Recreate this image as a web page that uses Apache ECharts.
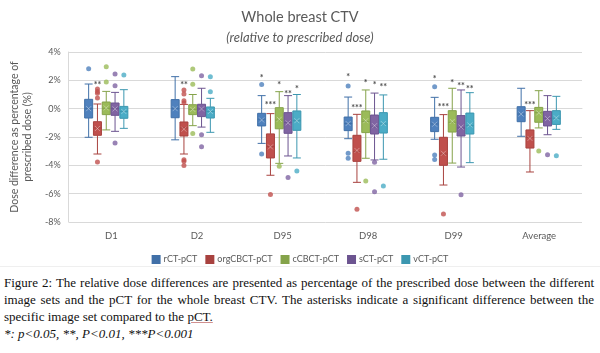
<!DOCTYPE html>
<html>
<head>
<meta charset="utf-8">
<script src="https://cdn.jsdelivr.net/npm/echarts@6/dist/echarts.min.js"></script>
<style>
  html, body { margin: 0; padding: 0; background: #fff; }
  #wrap { position: relative; width: 600px; height: 353px; overflow: hidden; }
  #chart { position: absolute; left: 0; top: 0; width: 600px; height: 266px; }
  #sep { position: absolute; left: 0; top: 266px; width: 600px; height: 1px; background: #efefef; }
  #caption {
    position: absolute; left: 4px; top: 274px; width: 590px;
    font-family: "Liberation Serif", "Times New Roman", serif;
    font-size: 13px; line-height: 17px; color: #111; text-align: justify;
  }
  #caption .u { text-decoration: underline; text-decoration-color: #d09090; }
</style>
</head>
<body>
<div id="wrap">
  <div id="chart"></div>
  <div id="sep"></div>
  <div id="caption">
    Figure 2: The relative dose differences are presented as percentage of the prescribed dose between the different
    image sets and the pCT for the whole breast CTV. The asterisks indicate a significant difference between the
    specific image set compared to the <span class="u">pCT.</span><br>
    <i>*: p&lt;0.05, **, P&lt;0.01, ***P&lt;0.001</i>
  </div>
</div>
<script>
// categories and tick labels
const categories = ['D1', 'D2', 'D95', 'D98', 'D99', 'Average'];
const yTicks = [-8, -6, -4, -2, 0, 2, 4];
const names = ['rCT-pCT', 'orgCBCT-pCT', 'cCBCT-pCT', 'sCT-pCT', 'vCT-pCT'];

// box values: [min, Q1, median, Q3, max] per category (dose diff in %)
const rctBox = [[-2.02, -0.66, 0.0, 0.66, 1.74], [-2.2, -0.64, 0.0, 0.64, 2.26], [-2.45, -1.22, -0.75, -0.33, 0.92],
  [-2.12, -1.55, -1.05, -0.59, 0.82], [-2.16, -1.62, -1.08, -0.61, 0.8], [-1.95, -0.92, -0.38, 0.14, 1.44]];
const orgBox = [[-3.2, -1.88, -1.36, -0.92, 0.33], [-3.2, -1.93, -1.36, -0.94, 0.3], [-4.7, -3.48, -2.68, -1.78, -0.35],
  [-5.2, -3.72, -3.04, -1.88, -0.4], [-5.39, -4.0, -3.2, -2.02, -0.42], [-4.47, -2.78, -2.02, -1.5, -0.14]];
const ccbBox = [[-1.5, -0.42, 0.02, 0.47, 1.22], [-1.2, -0.42, -0.05, 0.28, 1.0], [-3.86, -1.42, -0.8, 0.07, 1.2],
  [-3.5, -1.69, -0.9, -0.16, 1.32], [-3.84, -1.65, -0.96, -0.14, 1.44], [-1.36, -0.96, -0.28, 0.09, 1.27]];
const sctBox = [[-1.6, -0.47, 0.0, 0.4, 1.15], [-1.3, -0.56, -0.02, 0.31, 1.44], [-3.34, -1.74, -0.98, -0.28, 0.92],
  [-3.62, -1.79, -1.29, -0.45, 1.1], [-4.12, -1.93, -1.36, -0.49, 1.32], [-1.84, -1.22, -0.68, -0.19, 0.92]];
const vctBox = [[-1.39, -0.68, -0.19, 0.16, 1.34], [-1.67, -0.66, -0.2, 0.12, 0.73], [-3.48, -1.53, -0.85, -0.16, 1.0],
  [-3.57, -1.72, -1.08, -0.28, 0.97], [-3.81, -1.79, -1.2, -0.31, 1.13], [-1.46, -1.11, -0.68, -0.14, 0.87]];

// means (the x marks)
const rctMean = [0.0, 0.0, -0.8, -1.05, -1.1, -0.38];
const orgMean = [-1.4, -1.45, -2.7, -2.95, -3.15, -2.1];
const ccbMean = [0.05, -0.05, -0.75, -0.85, -0.9, -0.3];
const sctMean = [-0.02, -0.02, -1.0, -1.2, -1.3, -0.7];
const vctMean = [-0.2, -0.2, -0.85, -1.05, -1.15, -0.65];

// outliers: [category, value]
const rctOut = [['D1', 2.82], ['D95', 1.7], ['D95', -3.2], ['D98', 1.6], ['D98', -3.15], ['D98', -3.5],
  ['D99', 1.55], ['D99', -3.27], ['D99', -3.58]];
const orgOut = [['D1', 1.39], ['D1', 1.22], ['D1', 1.08], ['D1', 0.75], ['D1', -3.76],
  ['D2', 1.32], ['D2', 1.04], ['D2', 0.56], ['D2', 0.42], ['D2', -3.6], ['D2', -3.72], ['D2', -4.02],
  ['D95', -6.05], ['D98', -7.1], ['D99', -7.44]];
const ccbOut = [['D1', 2.96], ['D1', 1.88], ['D2', 2.8], ['D2', 1.72], ['D2', -1.76], ['D95', -4.07],
  ['D98', -5.1], ['Average', -2.99]];
const sctOut = [['D1', 2.45], ['D1', 1.62], ['D1', -2.42], ['D2', 2.33], ['D2', -1.84], ['D2', -2.68],
  ['D95', -4.85], ['D98', -3.78], ['D98', -5.86], ['D99', -6.07], ['Average', -3.25]];
const vctOut = [['D1', 2.38], ['D2', 2.26], ['D2', 1.2], ['D95', -4.4], ['D98', -5.46], ['Average', -3.32]];

// significance marks: [category, value, text]
const rctStars = [['D95', 2.3, '*'], ['D98', 2.38, '*'], ['D99', 2.24, '*']];
const orgStars = [['D1', 1.81, '**'], ['D2', 1.81, '**'], ['D95', 0.38, '***'], ['D98', 0.19, '***'],
  ['D99', 0.24, '***'], ['Average', 0.42, '***']];
const ccbStars = [['D95', 1.79, '*'], ['D98', 1.95, '*'], ['D99', 1.95, '*']];
const sctStars = [['D95', 1.18, '**'], ['D98', 1.79, '*'], ['D99', 1.74, '**']];
const vctStars = [['D95', 1.53, '*'], ['D98', 1.65, '**'], ['D99', 1.5, '**']];

const boxes = [rctBox, orgBox, ccbBox, sctBox, vctBox];
const means = [rctMean, orgMean, ccbMean, sctMean, vctMean];
const outs = [rctOut, orgOut, ccbOut, sctOut, vctOut];
const stars = [rctStars, orgStars, ccbStars, sctStars, vctStars];

const fills = ['#4F81BD', '#C0504D', '#9BBB59', '#8064A2', '#4BACC6'];
const darks = ['#4170A8', '#A8423F', '#85A34A', '#6C5490', '#3C97B0'];
const offsets = [-17.6, -8.8, 0, 8.8, 17.6];
const txt = '#595959';
const font = 'Lato, "Open Sans", sans-serif';

const chart = echarts.init(document.getElementById('chart'));

const grids = [{ left: 63, right: 18, top: 52, bottom: 44 }];
const xAxes = [{
  type: 'category', gridIndex: 0, data: categories,
  axisTick: { show: false },
  axisLine: { lineStyle: { color: '#d9d9d9' } },
  axisLabel: { color: txt, fontSize: 9.5, fontFamily: font, margin: 9 }
}];
const yAxes = [{
  type: 'value', gridIndex: 0, min: yTicks[0], max: yTicks[yTicks.length - 1], interval: 2,
  name: 'Dose difference as percentage of\nprescribed dose (%)',
  nameLocation: 'middle', nameGap: 19,
  nameTextStyle: { color: txt, fontSize: 10.5, fontFamily: font, lineHeight: 13 },
  axisLine: { show: true, lineStyle: { color: '#d9d9d9' } },
  axisTick: { show: false },
  splitLine: { lineStyle: { color: '#d9d9d9' } },
  axisLabel: { color: txt, fontSize: 9, fontFamily: font, margin: 8, formatter: v => v + '%' }
}];
const series = [];

names.forEach((name, i) => {
  const g = i + 1;
  grids.push({ left: 63 + offsets[i], right: 18 - offsets[i], top: 52, bottom: 44 });
  xAxes.push({ type: 'category', gridIndex: g, data: categories, show: false });
  yAxes.push({ type: 'value', gridIndex: g, min: -8, max: 4, interval: 2, show: false });
  series.push({
    name: name, type: 'boxplot', xAxisIndex: g, yAxisIndex: g,
    boxWidth: [8, 8],
    itemStyle: { color: fills[i], borderColor: darks[i], borderWidth: 1 },
    emphasis: { disabled: true },
    data: boxes[i]
  });
  series.push({
    name: name, type: 'scatter', xAxisIndex: g, yAxisIndex: g,
    symbolSize: 5, itemStyle: { color: fills[i] },
    data: outs[i]
  });
  series.push({
    name: name, type: 'scatter', xAxisIndex: g, yAxisIndex: g,
    symbol: 'path://M0,0L10,10M10,0L0,10', symbolSize: 5,
    itemStyle: { color: 'rgba(0,0,0,0)', borderColor: 'rgba(255,255,255,0.5)', borderWidth: 0.9 },
    data: means[i].map((v, k) => [categories[k], v])
  });
  series.push({
    name: name, type: 'scatter', xAxisIndex: g, yAxisIndex: g,
    symbolSize: 1, itemStyle: { color: 'rgba(0,0,0,0)' },
    label: { show: true, position: 'inside', color: '#1a1a1a', fontSize: 9, fontWeight: 'bold', fontFamily: font, offset: [0, 2] },
    data: stars[i].map(s => ({ value: [s[0], s[1]], label: { formatter: s[2] } }))
  });
});

chart.setOption({
  animation: false,
  title: {
    text: 'Whole breast CTV', subtext: '(relative to prescribed dose)',
    left: 'center', top: 5, itemGap: 6,
    textStyle: { color: txt, fontSize: 14.5, fontWeight: 'normal', fontFamily: font },
    subtextStyle: { color: txt, fontSize: 13, fontStyle: 'italic', fontFamily: font }
  },
  legend: {
    data: names.map(n => ({ name: n, icon: 'rect' })),
    top: 250, left: 'center', itemWidth: 7, itemHeight: 7, itemGap: 8,
    textStyle: { color: txt, fontSize: 9, fontFamily: font, padding: [0, 0, 0, -1] }
  },
  grid: grids,
  xAxis: xAxes,
  yAxis: yAxes,
  series: series
});
</script>
</body>
</html>
